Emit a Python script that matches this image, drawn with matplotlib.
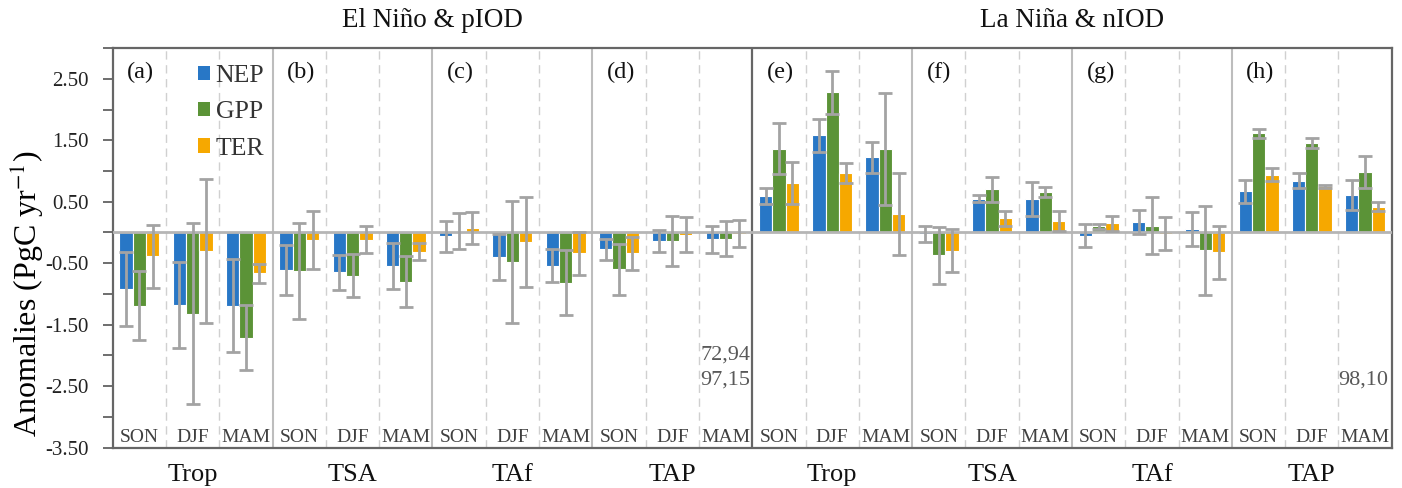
import matplotlib
matplotlib.use("Agg")
import matplotlib.pyplot as plt
import numpy as np
from matplotlib.patches import Patch
from matplotlib.transforms import blended_transform_factory

plt.rcParams['font.family'] = ['Liberation Serif', 'DejaVu Serif']
plt.rcParams['mathtext.fontset'] = 'stix'

seasons = ["SON", "DJF", "MAM"]
regions = ["Trop", "TSA", "TAf", "TAP", "Trop", "TSA", "TAf", "TAP"]
panel_labels = ["(a)", "(b)", "(c)", "(d)", "(e)", "(f)", "(g)", "(h)"]
group_titles = ["El Niño & pIOD", "La Niña & nIOD"]
series_names = ["NEP", "GPP", "TER"]

nep = [-0.92, -1.18, -1.19, -0.61, -0.65, -0.55, -0.065, -0.40, -0.54, -0.27, -0.14, -0.11,
       0.60, 1.58, 1.22, -0.03, 0.55, 0.54, -0.05, 0.17, 0.06, 0.67, 0.84, 0.61]
gpp = [-1.19, -1.32, -1.71, -0.625, -0.70, -0.80, 0.02, -0.48, -0.82, -0.60, -0.14, -0.10,
       1.36, 2.28, 1.36, -0.37, 0.70, 0.66, 0.10, 0.11, -0.29, 1.61, 1.45, 0.98]
ter = [-0.39, -0.30, -0.66, -0.12, -0.12, -0.31, 0.07, -0.15, -0.34, -0.34, -0.04, -0.02,
       0.80, 0.97, 0.30, -0.30, 0.23, 0.185, 0.15, -0.02, -0.32, 0.94, 0.75, 0.42]

nep_err = [0.60, 0.70, 0.76, 0.41, 0.29, 0.375, 0.25, 0.37, 0.27, 0.17, 0.18, 0.22,
           0.13, 0.27, 0.25, 0.13, 0.055, 0.275, 0.185, 0.19, 0.275, 0.185, 0.12, 0.25]
gpp_err = [0.56, 1.47, 0.53, 0.785, 0.35, 0.415, 0.29, 0.99, 0.53, 0.42, 0.41, 0.285,
           0.415, 0.35, 0.905, 0.46, 0.20, 0.075, 0.04, 0.465, 0.72, 0.07, 0.08, 0.26]
ter_err = [0.51, 1.165, 0.155, 0.475, 0.22, 0.145, 0.265, 0.73, 0.355, 0.265, 0.285, 0.22,
           0.34, 0.165, 0.67, 0.35, 0.12, 0.165, 0.12, 0.27, 0.43, 0.105, 0.02, 0.075]

colors = ["#2877c6", "#5b9337", "#f6a800"]

fig = plt.figure(figsize=(14.02, 4.88), dpi=100)
ax = fig.add_axes([0.0804, 0.0826, 0.9123, 0.819])

n = len(nep)
x = np.arange(n) + 0.5
w = 0.25
for k, (vals, errs) in enumerate(zip([nep, gpp, ter], [nep_err, gpp_err, ter_err])):
    xs = x + (k - 1) * w
    ax.bar(xs, vals, width=w, color=colors[k], edgecolor="white", linewidth=0.8,
           zorder=2, label=series_names[k])
    ax.errorbar(xs, vals, yerr=errs, fmt="none", ecolor="#a3a3a3", elinewidth=2,
                capsize=5, capthick=2, zorder=4)

ax.axhline(0, color="#b5b5b5", lw=2, zorder=3)

# separators
for i in range(1, n):
    if i == 12:
        ax.axvline(i, color="#666666", lw=1.6, zorder=1)
    elif i % 3 == 0:
        ax.axvline(i, color="#bdbdbd", lw=1.5, zorder=1)
    else:
        ax.axvline(i, color="#d0d0d0", lw=1.0, ls=(0, (6, 4)), zorder=1)

ax.set_xlim(0, n)
ax.set_ylim(-3.5, 3.0)
ax.set_xticks([])
ax.set_yticks(np.arange(-3.5, 2.51, 1.0))
ax.set_yticks(np.arange(-3.5, 3.01, 0.5), minor=True)
ax.set_yticklabels([f"{v:.2f}" for v in np.arange(-3.5, 2.51, 1.0)])
ax.tick_params(axis="y", which="both", length=7, width=1.2, color="#555555",
               labelsize=15, labelcolor="#222222", pad=10)
for sp in ax.spines.values():
    sp.set_color("#666666")
    sp.set_linewidth(1.6)

ax.set_ylabel("Anomalies (PgC yr$^{-1}$)", fontsize=23, va="center")
ax.yaxis.set_label_coords(-0.0674, 0.385)

# season labels
for i in range(n):
    ax.text(x[i], -3.33, seasons[i % 3], ha="center", va="center", fontsize=14,
            color="#404040")

# panel labels
for p in range(8):
    ax.text(p * 3 + 0.27, 2.6, panel_labels[p], ha="left", va="center", fontsize=17.5,
            color="#111111")

# region labels below
trans = blended_transform_factory(ax.transData, ax.transAxes)
for p in range(8):
    ax.text(p * 3 + 1.5, -0.068, regions[p], ha="center", va="center", fontsize=19,
            transform=trans, color="#111111")

# group titles
for g in range(2):
    ax.text(g * 12 + 6, 1.068, group_titles[g], ha="center", va="center", fontsize=19.5,
            transform=trans, color="#111111")

# annotations
ax.text(11.96, -2.0, "72,94", ha="right", va="center", fontsize=16, color="#595959")
ax.text(11.96, -2.4, "97,15", ha="right", va="center", fontsize=16, color="#595959")
ax.text(23.93, -2.4, "98,10", ha="right", va="center", fontsize=16, color="#595959")

handles = [Patch(facecolor=c, edgecolor="none") for c in colors]
ax.legend(handles, series_names, loc="upper left", bbox_to_anchor=(0.0665, 0.958),
          frameon=False, fontsize=18.5, labelcolor="#333333",
          handlelength=0.47, handleheight=0.47,
          handletextpad=0.22, labelspacing=0.56, borderpad=0, borderaxespad=0)

fig.savefig("out.png", dpi=100)
